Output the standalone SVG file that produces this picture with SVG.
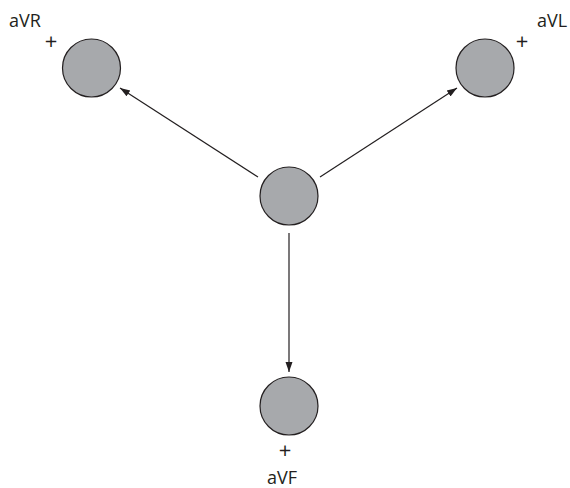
<svg xmlns="http://www.w3.org/2000/svg" width="570" height="488" viewBox="0 0 570 488">
<style>
.n{fill:#a7a9ac;stroke:#231f20;stroke-width:1.2}
.t{font-family:"Open Sans","Liberation Sans",sans-serif;font-size:18px;fill:#231f20}
.p{font-family:"Open Sans","Liberation Sans",sans-serif;font-size:22px;fill:#231f20;text-anchor:middle}
.c{stroke:#231f20;stroke-width:1.2;fill:none;marker-end:url(#a)}
</style>
<defs>
<marker id="a" viewBox="0 0 10 10" refX="10" refY="5" markerWidth="10" markerHeight="10" markerUnits="userSpaceOnUse" orient="auto">
<path d="M0,1.5 L10,5 L0,8.5 Z" fill="#231f20"/>
</marker>
</defs>
<rect width="570" height="488" fill="#fff"/>
<g id="connectors">
<line class="c" x1="258" y1="177" x2="120" y2="88"/>
<line class="c" x1="320" y1="177" x2="457" y2="88"/>
<line class="c" x1="289" y1="233" x2="289" y2="372"/>
</g>
<g id="center"><circle class="n" cx="289" cy="196" r="29"/></g>
<g id="aVR"><circle class="n" cx="91.5" cy="68" r="29"/>
<text class="t" x="9" y="27">aVR</text><text class="p" x="51" y="49">+</text></g>
<g id="aVL"><circle class="n" cx="485" cy="68" r="29"/>
<text class="t" x="537" y="27">aVL</text><text class="p" x="522" y="49">+</text></g>
<g id="aVF"><circle class="n" cx="289" cy="406" r="29"/>
<text class="p" x="285" y="458">+</text><text class="t" x="282" y="484" text-anchor="middle">aVF</text></g>
</svg>
